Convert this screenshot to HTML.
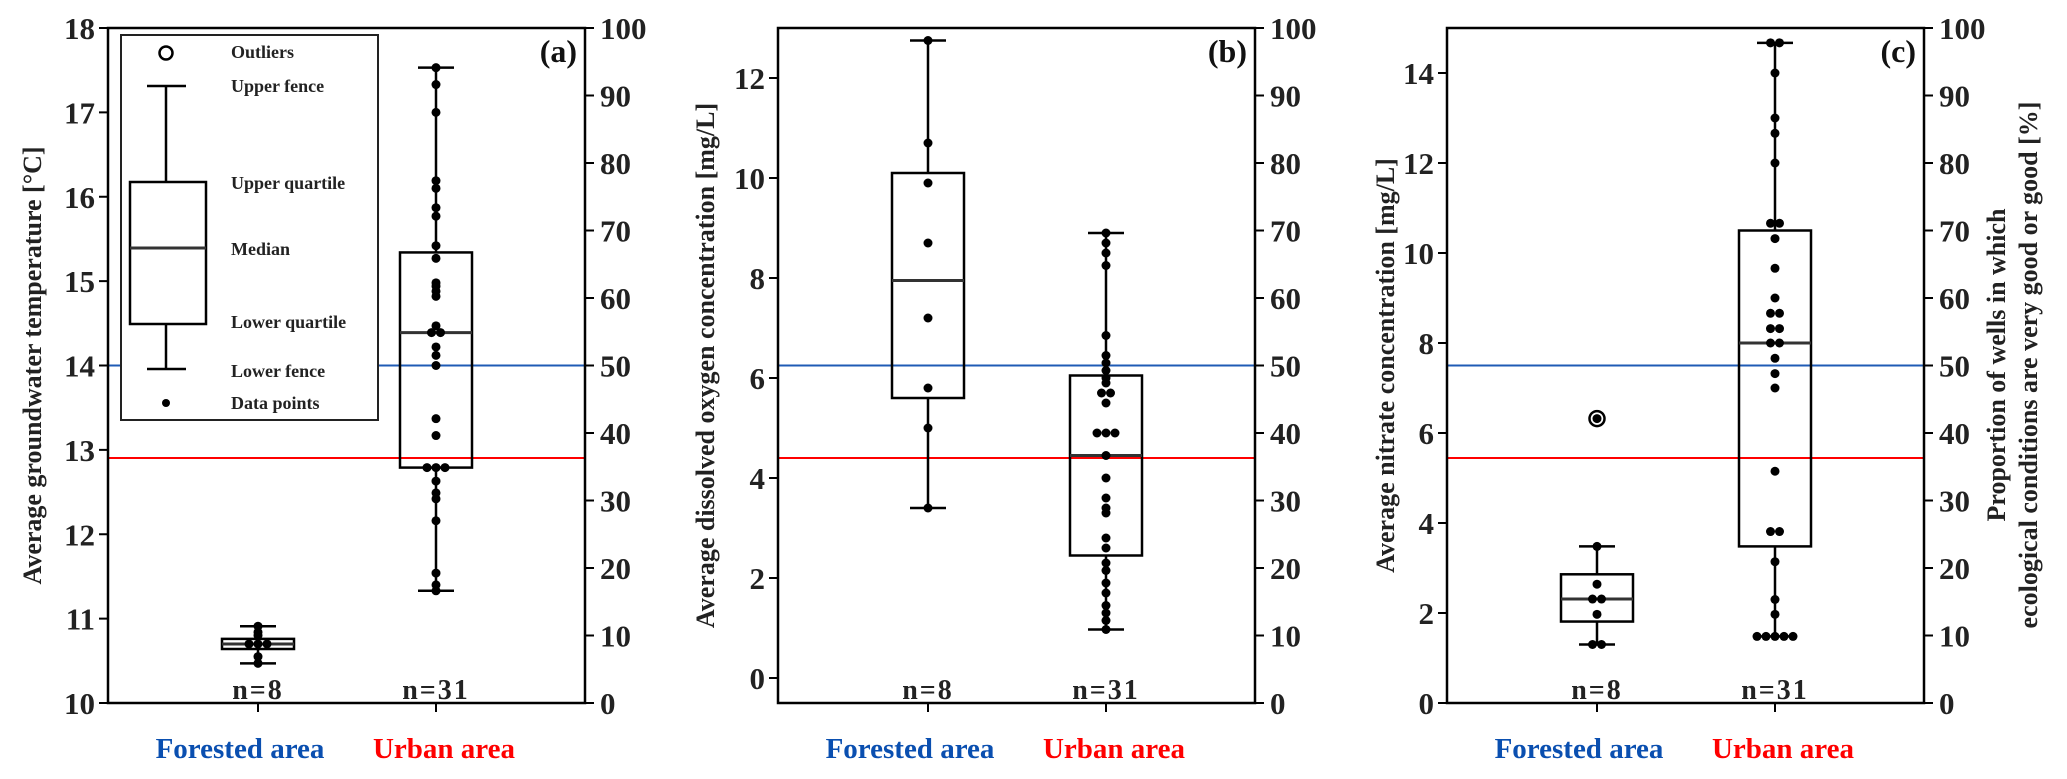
<!DOCTYPE html>
<html><head><meta charset="utf-8"><style>
html,body{margin:0;padding:0;background:#fff;}
svg{display:block;font-family:"Liberation Serif",serif;font-weight:bold;}
</style></head><body>
<svg id="fig" width="2067" height="779" viewBox="0 0 2067 779" xmlns="http://www.w3.org/2000/svg"></svg>
<script>
// ---------- data ----------
const categories = ["Forested area", "Urban area"];
const counts = ["n=8", "n=31"];
const panelLetters = ["(a)", "(b)", "(c)"];
const yTitles = ["Average groundwater temperature [°C]", "Average dissolved oxygen concentration [mg/L]", "Average nitrate concentration [mg/L]"];
const yDomains = [[10, 18], [-0.5, 13], [0, 15]];
const yTicksA = [10, 11, 12, 13, 14, 15, 16, 17, 18];
const yTicksB = [0, 2, 4, 6, 8, 10, 12];
const yTicksC = [0, 2, 4, 6, 8, 10, 12, 14];
const rightTicks = [0, 10, 20, 30, 40, 50, 60, 70, 80, 90, 100];
const forestedPct = [50, 50, 50];
const urbanPct = [36.3, 36.3, 36.3];

// box stats: [lowerFence, q1, median, q3, upperFence]
const statsA = [[10.47, 10.64, 10.70, 10.76, 10.91], [11.33, 12.79, 14.39, 15.34, 17.53]];
const statsB = [[3.4, 5.6, 7.95, 10.1, 12.75], [0.97, 2.45, 4.45, 6.05, 8.9]];
const statsC = [[1.3, 1.81, 2.31, 2.86, 3.48], [1.48, 3.48, 8.0, 10.5, 14.67]];
const outliersC = [[6.32], []];

const pointsA_forest = [10.91, 10.84, 10.80, 10.70, 10.70, 10.70, 10.55, 10.47];
const pointsA_urban = [17.53, 17.33, 17.0, 16.19, 16.1, 15.87, 15.77, 15.42, 15.27, 14.98, 14.94, 14.88, 14.82, 14.47, 14.39, 14.39, 14.22, 14.12, 14.0, 13.37, 13.17, 12.79, 12.79, 12.79, 12.63, 12.49, 12.42, 12.16, 11.54, 11.4, 11.33];
const pointsB_forest = [12.75, 10.7, 9.9, 8.7, 7.2, 5.8, 5.0, 3.4];
const pointsB_urban = [8.9, 8.7, 8.5, 8.25, 6.85, 6.45, 6.3, 6.15, 6.0, 5.9, 5.7, 5.7, 5.5, 4.9, 4.9, 4.9, 4.45, 4.0, 3.6, 3.4, 3.3, 2.8, 2.6, 2.3, 2.15, 1.9, 1.7, 1.45, 1.3, 1.15, 0.97];
const pointsC_forest = [6.32, 3.48, 2.64, 2.31, 2.31, 1.97, 1.3, 1.3];
const pointsC_urban = [14.67, 14.67, 14.0, 13.0, 12.66, 12.0, 10.66, 10.66, 10.32, 9.66, 9.0, 8.66, 8.66, 8.32, 8.32, 8.0, 8.0, 7.66, 7.32, 7.0, 5.15, 3.81, 3.81, 3.14, 2.3, 1.97, 1.48, 1.48, 1.48, 1.48, 1.48];

// ---------- rendering ----------
const NS = "http://www.w3.org/2000/svg";
const svg = document.getElementById("fig");
function mk(tag, attrs, parent) {
  const e = document.createElementNS(NS, tag);
  for (const k in attrs) e.setAttribute(k, attrs[k]);
  (parent || svg).appendChild(e);
  return e;
}
const TOP = 28, BOT = 703, W = 477;
const lefts = [108, 778, 1447];
const catOffsets = [150, 328];
const yTickSets = [yTicksA, yTicksB, yTicksC];
const allStats = [statsA, statsB, statsC];
const allPoints = [[pointsA_forest, pointsA_urban], [pointsB_forest, pointsB_urban], [pointsC_forest, pointsC_urban]];
const outliers = [[[], []], [[], []], outliersC];
const titleX = [32, 705, 1385];

for (let p = 0; p < 3; p++) {
  const L = lefts[p], R = L + W;
  const [d0, d1] = yDomains[p];
  const y = v => BOT - (v - d0) / (d1 - d0) * (BOT - TOP);
  const yr = v => BOT - v / 100 * (BOT - TOP);
  const xc = i => L + catOffsets[i];
  const g = mk("g", {});
  
  

  const bl = mk("line", {x1: L, x2: R, y1: yr(forestedPct[p]), y2: yr(forestedPct[p]), stroke: "#1f5bb5", "stroke-width": 2}, g);
  
  
  const rl = mk("line", {x1: L, x2: R, y1: yr(urbanPct[p]), y2: yr(urbanPct[p]), stroke: "#ff0000", "stroke-width": 2}, g);
  
  

  const fr = mk("rect", {x: L, y: TOP, width: W, height: BOT - TOP, fill: "none", stroke: "#000", "stroke-width": 2.5}, g);
  
  

  yTickSets[p].forEach(t => {
    mk("line", {x1: L - 9, x2: L, y1: y(t), y2: y(t), stroke: "#000", "stroke-width": 2}, g);
    const tx = mk("text", {x: L - 13, y: y(t) + 11, "text-anchor": "end", "font-size": 31, fill: "#222"}, g);
    tx.textContent = t;
    
    
  });
  rightTicks.forEach(t => {
    mk("line", {x1: R, x2: R + 9, y1: yr(t), y2: yr(t), stroke: "#000", "stroke-width": 2}, g);
    const tx = mk("text", {x: R + 15, y: yr(t) + 11, "font-size": 31, fill: "#222"}, g);
    tx.textContent = t;
    
    
  });
  const yt = mk("text", {x: 0, y: 0, "text-anchor": "middle", "font-size": 26, fill: "#222", transform: `translate(${titleX[p] + 9},${(TOP + BOT) / 2}) rotate(-90)`}, g);
  yt.textContent = yTitles[p];
  
  
  const pl = mk("text", {x: R - 8, y: TOP + 34, "text-anchor": "end", "font-size": 32, fill: "#111"}, g);
  pl.textContent = panelLetters[p];
  
  

  for (let i = 0; i < 2; i++) {
    const cx = xc(i), s = allStats[p][i];
    mk("line", {x1: cx, x2: cx, y1: BOT, y2: BOT + 9, stroke: "#000", "stroke-width": 2}, g);
    const wk = mk("g", {stroke: "#000", "stroke-width": 2.5}, g);
    
    
    mk("line", {x1: cx, x2: cx, y1: y(s[0]), y2: y(s[1])}, wk);
    mk("line", {x1: cx, x2: cx, y1: y(s[3]), y2: y(s[4])}, wk);
    mk("line", {x1: cx - 18, x2: cx + 18, y1: y(s[0]), y2: y(s[0])}, wk);
    mk("line", {x1: cx - 18, x2: cx + 18, y1: y(s[4]), y2: y(s[4])}, wk);
    const bx = mk("rect", {x: cx - 36, y: y(s[3]), width: 72, height: y(s[1]) - y(s[3]), fill: "none", stroke: "#000", "stroke-width": 2.5}, g);
    
    
    const md = mk("line", {x1: cx - 36, x2: cx + 36, y1: y(s[2]), y2: y(s[2]), stroke: "#333", "stroke-width": 3}, g);
    
    
    outliers[p][i].forEach(v => {
      const oc = mk("circle", {cx: cx, cy: y(v), r: 7.5, fill: "none", stroke: "#000", "stroke-width": 2.5}, g);
      
      
    });
    const pts = allPoints[p][i];
    const used = new Array(pts.length).fill(false);
    for (let a = 0; a < pts.length; a++) {
      if (used[a]) continue;
      const grp = [];
      for (let b = a; b < pts.length; b++) if (!used[b] && Math.abs(pts[b] - pts[a]) < 0.02) { grp.push(b); used[b] = true; }
      grp.forEach((idx, k) => {
        const off = (k - (grp.length - 1) / 2) * 9;
        const c = mk("circle", {cx: cx + off, cy: y(pts[idx]), r: 4.5, fill: "#000"}, g);
        
        
      });
    }
    const nl = mk("text", {x: cx, y: BOT - 4, "text-anchor": "middle", "font-size": 28, "letter-spacing": 2, fill: "#222"}, g);
    nl.textContent = counts[i];
    
    
    const cl = mk("text", {x: cx + (i ? 8 : -18), y: 758, "text-anchor": "middle", "font-size": 29, fill: i ? "#ff0000" : "#0a4fb0"}, g);
    cl.textContent = categories[i];
    
    
  }
}

const rt = mk("text", {"text-anchor": "middle", "font-size": 26, fill: "#222", transform: `translate(2005,365) rotate(-90)`});


const t1 = mk("tspan", {x: 0, dy: 0}, rt); t1.textContent = "Proportion of wells in which";
const t2 = mk("tspan", {x: 0, dy: 32}, rt); t2.textContent = "ecological conditions are very good or good [%]";

const lg = mk("g", {});


mk("rect", {x: 121, y: 35, width: 257, height: 385, fill: "#fff", stroke: "#222", "stroke-width": 2}, lg);
mk("circle", {cx: 166, cy: 53, r: 6.5, fill: "none", stroke: "#000", "stroke-width": 2.5}, lg);
mk("line", {x1: 147, x2: 186, y1: 86, y2: 86, stroke: "#000", "stroke-width": 2.5}, lg);
mk("line", {x1: 166, x2: 166, y1: 86, y2: 182, stroke: "#000", "stroke-width": 2.5}, lg);
mk("rect", {x: 130, y: 182, width: 76, height: 142, fill: "none", stroke: "#000", "stroke-width": 2.5}, lg);
mk("line", {x1: 130, x2: 206, y1: 248, y2: 248, stroke: "#333", "stroke-width": 3}, lg);
mk("line", {x1: 166, x2: 166, y1: 324, y2: 369, stroke: "#000", "stroke-width": 2.5}, lg);
mk("line", {x1: 147, x2: 186, y1: 369, y2: 369, stroke: "#000", "stroke-width": 2.5}, lg);
mk("circle", {cx: 166, cy: 403, r: 4, fill: "#000"}, lg);
const legItems = [["Outliers", 58], ["Upper fence", 92], ["Upper quartile", 189], ["Median", 255], ["Lower quartile", 328], ["Lower fence", 377], ["Data points", 409]];
legItems.forEach(([txt, yy]) => {
  const t = mk("text", {x: 231, y: yy, "font-size": 18, fill: "#222"}, lg);
  t.textContent = txt;
  
  
});
</script>
</body></html>
